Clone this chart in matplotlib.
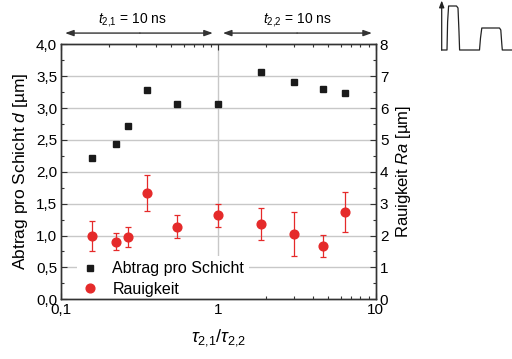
import matplotlib
matplotlib.use("Agg")
import matplotlib.pyplot as plt
from matplotlib.ticker import FuncFormatter, MultipleLocator, LogLocator, NullFormatter

plt.rcParams['font.family'] = ['Liberation Sans', 'DejaVu Sans']
plt.rcParams['mathtext.fontset'] = 'custom'
plt.rcParams['mathtext.rm'] = 'Liberation Sans'
plt.rcParams['mathtext.it'] = 'Liberation Sans:italic'

# pulse duration ratio tau_2,1 / tau_2,2
ratio = [0.157, 0.222, 0.267, 0.352, 0.545, 1.0, 1.86, 3.0, 4.6, 6.4]
# ablation depth per layer d [um]
abtrag = [2.22, 2.44, 2.72, 3.28, 3.06, 3.06, 3.57, 3.41, 3.30, 3.23]
# roughness Ra [um] and its error
ra = [2.00, 1.81, 1.96, 3.34, 2.28, 2.64, 2.35, 2.05, 1.67, 2.74]
ra_err = [0.47, 0.27, 0.31, 0.57, 0.36, 0.36, 0.50, 0.69, 0.34, 0.64]

# double pulse sketch (time, amplitude)
pulse_t = [9.7, 15.0, 15.6, 16.6, 24.5, 26.0, 27.0, 27.6, 47.5, 48.5, 49.8,
           67.5, 68.8, 69.8, 70.3, 80.0]
pulse_a = [2.0, 2.0, 30.0, 46.0, 46.0, 44.0, 20.0, 2.0, 2.0, 14.0, 24.0,
           24.0, 22.0, 8.0, 2.0, 2.0]

black = '#1a1a1a'
red = '#e52a2a'
grid_c = '#c8c8c8'

fig = plt.figure(figsize=(5.12, 3.59), dpi=100)
ax = fig.add_axes([0.1197, 0.1663, 0.6141, 0.7103])
ax2 = ax.twinx()

ax.set_xscale('log')
ax.set_xlim(0.1, 10)
ax.set_ylim(0, 4.0)
ax2.set_ylim(0, 8)

# horizontal grid and the ratio = 1 marker line
for g in [0.5, 1.0, 1.5, 2.0, 2.5, 3.0, 3.5]:
    ax.axhline(g, color=grid_c, lw=1.0, zorder=0)
ax.axvline(1.0, color=grid_c, lw=1.0, zorder=0)

sq, = ax.plot(ratio, abtrag, 's', color=black, ms=5.0, zorder=3,
              label='Abtrag pro Schicht', linestyle='none')
ax2.errorbar(ratio, ra, yerr=ra_err, fmt='none', ecolor=red, elinewidth=0.9,
             capsize=2.2, capthick=0.9, zorder=3)
ci, = ax2.plot(ratio, ra, 'o', color=red, ms=6.3, zorder=4,
               label='Rauigkeit', linestyle='none')

comma = FuncFormatter(lambda v, p: f"{v:.1f}".replace('.', ','))
ax.yaxis.set_major_locator(MultipleLocator(0.5))
ax.yaxis.set_minor_locator(MultipleLocator(0.25))
ax.yaxis.set_major_formatter(comma)
ax2.yaxis.set_major_locator(MultipleLocator(1))
ax2.yaxis.set_minor_locator(MultipleLocator(0.5))
ax.xaxis.set_major_locator(LogLocator(base=10, numticks=5))
ax.xaxis.set_minor_locator(LogLocator(base=10, subs=range(2, 10), numticks=20))
ax.xaxis.set_minor_formatter(NullFormatter())
ax.xaxis.set_major_formatter(FuncFormatter(
    lambda v, p: {0.1: '0,1', 1.0: '1', 10.0: '10'}.get(round(v, 3), '')))

for a in (ax, ax2):
    a.tick_params(which='both', direction='in', labelsize=11, color='#333333',
                  width=0.8)
    a.tick_params(which='major', length=4.5)
    a.tick_params(which='minor', length=2.5)
    for s in a.spines.values():
        s.set_color('#333333')
        s.set_linewidth(1.0)
ax.tick_params(axis='x', which='both', top=True, pad=3)
ax.tick_params(axis='y', which='both', right=False, pad=3)
ax2.tick_params(axis='y', which='both', pad=3)

ax.set_xlabel(r'$\tau_{2{,}1}/\tau_{2{,}2}$', fontsize=13, labelpad=7)
ax.set_ylabel(r'Abtrag pro Schicht $d$ [µm]', fontsize=12.5, labelpad=4)
ax2.set_ylabel(r'Rauigkeit $Ra$ [µm]', fontsize=12, labelpad=4)

# legend sits under the spines and ticks but over the grid
leg = ax.legend(handles=[sq, ci], loc='lower left',
                bbox_to_anchor=(0.025, -0.04), fontsize=11.5, frameon=True,
                handlelength=1.0, handletextpad=0.9, borderpad=0.3,
                labelspacing=0.35)
leg.get_frame().set_edgecolor('none')
leg.get_frame().set_facecolor('white')
leg.get_frame().set_alpha(1.0)
leg.set_zorder(2.4)

# pulse duration annotations above the plot
arrow_kw = dict(arrowstyle='-|>,head_length=0.5,head_width=0.18',
                color='#333333', lw=1.0, shrinkA=0, shrinkB=0)
ax.annotate('', xy=(0.012, 1.044), xytext=(0.25, 1.044),
            xycoords='axes fraction', annotation_clip=False, arrowprops=arrow_kw)
ax.annotate('', xy=(0.482, 1.044), xytext=(0.25, 1.044),
            xycoords='axes fraction', annotation_clip=False, arrowprops=arrow_kw)
ax.annotate('', xy=(0.514, 1.044), xytext=(0.75, 1.044),
            xycoords='axes fraction', annotation_clip=False, arrowprops=arrow_kw)
ax.annotate('', xy=(0.988, 1.044), xytext=(0.75, 1.044),
            xycoords='axes fraction', annotation_clip=False, arrowprops=arrow_kw)
ax.text(0.228, 1.095, r'$t_{2{,}1}$ = 10 ns', transform=ax.transAxes,
        ha='center', va='center', fontsize=10)
ax.text(0.75, 1.095, r'$t_{2{,}2}$ = 10 ns', transform=ax.transAxes,
        ha='center', va='center', fontsize=10)

# double pulse sketch
ins = fig.add_axes([432 / 512, 1 - 52 / 359, 80 / 512, 52 / 359])
ins.set_xlim(0, 80)
ins.set_ylim(0, 52)
ins.axis('off')
ins.plot(pulse_t, pulse_a, color='#222222', lw=0.9)
ins.annotate('', xy=(9.7, 51.5), xytext=(9.7, 2.0),
             arrowprops=dict(arrowstyle='-|>,head_length=0.4,head_width=0.15',
                             color='#222222', lw=0.9, shrinkA=0, shrinkB=0))

fig.savefig('out.png', dpi=100)
